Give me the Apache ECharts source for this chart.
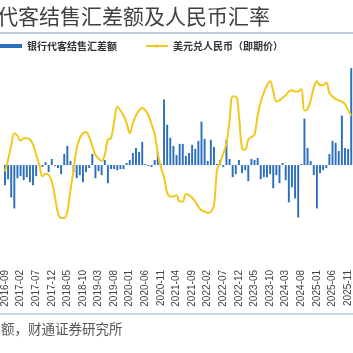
<!DOCTYPE html>
<html>
<head>
<meta charset="utf-8">
<script src="https://cdn.jsdelivr.net/npm/echarts@6/dist/echarts.min.js"></script>
<style>
  html, body { margin: 0; padding: 0; background: #fff; }
  #main { width: 353px; height: 353px; }
</style>
</head>
<body>
<div id="main"></div>
<script>
// 月份：2016-09 ~ 2025-12
const startYear = 2016, startMonth = 9, monthCount = 112;
const months = [];
for (let k = 0; k < monthCount; k++) {
  const m = startMonth - 1 + k;
  const y = startYear + Math.floor(m / 12);
  const mm = (m % 12) + 1;
  months.push(y + '-' + (mm < 10 ? '0' + mm : mm));
}

// 银行代客结售汇差额（亿美元）
const fxNet = [
  -200, -140, -320, -430, -130, -110, -150, -120, -170, -200,
  -110, 10, -20, 30, -70, 60, -10, -30, -90, 110,
  190, 40, -70, -130, -100, -170, -70, -30, 110, -130,
  -60, -100, 50, -180, -40, -40, -50, -40, -40, 20,
  50, 120, 170, 130, 230, 10, -10, -20, 50, 130,
  10, 650, 400, 270, 190, 100, 210, 210, 90, 120,
  200, 160, 240, 430, 260, 40, 250, 180, 10, 50,
  -20, 250, 60, -120, -90, 50, -80, -50, -160, 60,
  50, 70, -140, -120, -120, -90, -230, -100, -180, 20,
  -150, -370, -220, -330, -520, 10, 460, 170, 40, -100,
  -430, -80, -50, -30, 110, 240, 220, 140, 490, 170,
  160, 960
];

// 美元兑人民币（即期价）
const usdcny = [
  6.65, 6.74, 6.85, 6.95, 6.93, 6.89, 6.91, 6.91, 6.90, 6.86,
  6.78, 6.70, 6.61, 6.63, 6.62, 6.57, 6.45, 6.32, 6.28, 6.28,
  6.33, 6.50, 6.66, 6.83, 6.91, 6.95, 6.96, 6.92, 6.85, 6.78,
  6.75, 6.73, 6.78, 6.90, 6.91, 7.04, 7.16, 7.13, 7.09, 7.03,
  6.95, 7.03, 7.09, 7.13, 7.15, 7.13, 7.09, 7.02, 6.94, 6.79,
  6.68, 6.60, 6.48, 6.45, 6.45, 6.46, 6.41, 6.41, 6.47, 6.46,
  6.44, 6.41, 6.37, 6.34, 6.33, 6.32, 6.33, 6.38, 6.66, 6.72,
  6.79, 6.87, 7.05, 7.24, 7.24, 7.09, 6.83, 6.82, 6.90, 6.92,
  6.94, 7.09, 7.20, 7.27, 7.33, 7.36, 7.28, 7.20, 7.21, 7.23,
  7.25, 7.28, 7.29, 7.28, 7.28, 7.30, 7.13, 7.14, 7.21, 7.31,
  7.36, 7.33, 7.33, 7.35, 7.27, 7.24, 7.22, 7.21, 7.20, 7.18,
  7.13, 7.09
];

const myChart = echarts.init(document.getElementById('main'), null, { renderer: 'canvas' });

const option = {
  animation: false,
  backgroundColor: '#ffffff',
  title: {
    text: '代客结售汇差额及人民币汇率',
    left: -3,
    top: 6,
    padding: 0,
    textStyle: {
      fontFamily: 'Noto Sans CJK SC',
      fontSize: 21,
      fontWeight: 'normal',
      color: '#404040'
    }
  },
  legend: {
    left: 0,
    top: 41,
    padding: 0,
    itemGap: 28,
    itemWidth: 22,
    itemHeight: 4,
    textStyle: {
      fontFamily: 'Noto Sans CJK SC',
      fontSize: 10,
      fontWeight: 'bold',
      color: '#333'
    },
    data: [
      { name: '银行代客结售汇差额', icon: 'rect' },
      { name: '美元兑人民币（即期价）' }
    ]
  },
  grid: {
    left: -4,
    right: -1,
    top: 51,
    bottom: 87
  },
  xAxis: {
    type: 'category',
    data: months,
    boundaryGap: true,
    axisLine: { show: false },
    axisTick: { show: false },
    axisLabel: {
      interval: 4,
      rotate: 90,
      margin: 4,
      fontFamily: 'Liberation Sans',
      fontSize: 10,
      color: '#444'
    }
  },
  yAxis: [
    {
      type: 'value',
      min: -1000,
      max: 1130,
      show: false,
      splitLine: { show: false }
    },
    {
      type: 'value',
      min: 5.9,
      max: 7.6,
      show: false,
      splitLine: { show: false }
    }
  ],
  graphic: [
    {
      type: 'line',
      shape: { x1: 0, y1: 33, x2: 353, y2: 33 },
      style: { stroke: '#a9b8cc', lineWidth: 1.5 },
      silent: true
    },
    {
      type: 'line',
      shape: { x1: 0, y1: 314, x2: 353, y2: 314 },
      style: { stroke: '#b7c9de', lineWidth: 1.5 },
      silent: true
    },
    {
      type: 'text',
      left: 1,
      top: 322,
      style: {
        text: '额，财通证券研究所',
        fontFamily: 'Noto Sans CJK SC',
        fontSize: 13.5,
        fill: '#555'
      },
      silent: true
    }
  ],
  series: [
    {
      name: '银行代客结售汇差额',
      type: 'bar',
      yAxisIndex: 0,
      barWidth: '62%',
      itemStyle: { color: '#2c6fbe' },
      data: fxNet
    },
    {
      name: '美元兑人民币（即期价）',
      type: 'line',
      yAxisIndex: 1,
      smooth: 0.4,
      symbol: 'none',
      lineStyle: { color: '#f0c81e', width: 2 },
      itemStyle: { color: '#f0c81e' },
      z: 3,
      data: usdcny
    }
  ]
};

myChart.setOption(option);
</script>
</body>
</html>
